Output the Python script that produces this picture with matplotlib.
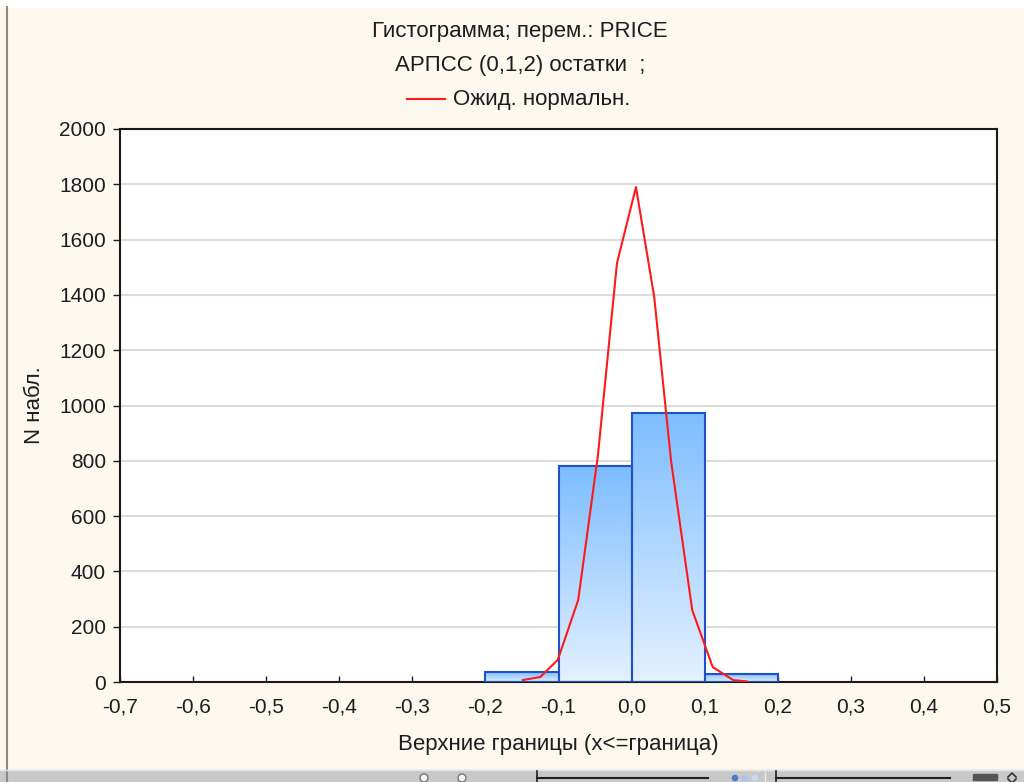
import numpy as np
import matplotlib.pyplot as plt
from matplotlib.patches import Rectangle, Circle
from matplotlib.colors import LinearSegmentedColormap
from matplotlib.ticker import FuncFormatter

plt.rcParams['font.family'] = ['Liberation Sans', 'DejaVu Sans']

# histogram of ARIMA residuals
bin_left = [-0.2, -0.1, 0.0, 0.1]
bin_width = 0.1
counts = [36, 781, 973, 29]

# expected normal curve, as plotted
curve_x = [-0.149, -0.125, -0.101, -0.073, -0.046, -0.020, 0.006,
           0.031, 0.054, 0.083, 0.111, 0.139, 0.158]
curve_y = [7, 18, 80, 297, 821, 1515, 1790, 1392, 800, 260, 54, 7, 2]

xticks = np.round(np.arange(-0.7, 0.51, 0.1), 1)
yticks = np.arange(0, 2001, 200)

txt = '#1c1c24'
fs_tick = 15
fs_text = 16
W, H = 1024, 782
fig = plt.figure(figsize=(W / 100, H / 100), dpi=100, facecolor='#fdf8ee')

# window chrome: white strip on top, left border, status bar at the bottom
bg = fig.add_axes([0, 0, 1, 1], zorder=-5)
bg.set_xlim(0, W)
bg.set_ylim(H, 0)
bg.axis('off')
bg.add_patch(Rectangle((0, 0), W, 7, color='white'))
bg.plot([7, 7], [7, H], color='#8a8a8a', lw=1.5)
bg.add_patch(Rectangle((0, 770), W, 12, color='#c8c8c8'))
bg.plot([0, W], [770, 770], color='#e6e6e6', lw=1)
grad = np.linspace(0, 1, 30).reshape(1, -1)
bg.imshow(grad, cmap='Blues_r', extent=(487, 516, 782, 771), aspect='auto', vmin=-0.3, vmax=1.2)
for a, b in [(537, 708), (776, 950)]:
    bg.plot([a, b], [778, 778], color='#202020', lw=1.5)
    bg.plot([a, a], [771, 782], color='#202020', lw=1.2)
bg.scatter([735, 745, 755], [778, 778, 778], s=14, color=['#4a7ccc', '#a8c4ec', '#c9d9f2'])
bg.plot([765, 765], [771, 782], color='#e8e8e8', lw=1)
bg.add_patch(Rectangle((973, 774), 24, 6, color='#555555'))
bg.plot([1008, 1012, 1016], [777, 773, 777], color='#333333', lw=1.2)
bg.plot([1008, 1012, 1016], [779, 783, 779], color='#333333', lw=1.2)
for cx in (424, 462):
    bg.add_patch(Circle((cx, 778), 4, facecolor='#f4f4f4', edgecolor='#777777', lw=1))

ax = fig.add_axes([120 / W, 1 - 682 / H, 877 / W, 553 / H])
ax.set_facecolor('white')

# bars with vertical gradient fill
gfill = np.linspace(0, 1, 256).reshape(-1, 1)
cmap = LinearSegmentedColormap.from_list('bar', ['#e4f1ff', '#7dbdff'])
for x0, c in zip(bin_left, counts):
    ax.imshow(gfill, cmap=cmap, origin='lower', aspect='auto',
              extent=(x0, x0 + bin_width, 0, c), zorder=2)
    ax.add_patch(Rectangle((x0, 0), bin_width, c, fill=False,
                           edgecolor='#1f52c9', lw=1.5, zorder=3))
ax.set_xlim(-0.7, 0.5)
ax.set_ylim(0, 2000)

ax.plot(curve_x, curve_y, color='#ff1a1a', lw=1.5, zorder=4)

ax.set_yticks(yticks)
ax.set_xticks(xticks)
ax.yaxis.grid(True, color='#dcdcdc', lw=1.5, zorder=1)
ax.set_axisbelow(True)
ax.xaxis.set_major_formatter(FuncFormatter(lambda v, p: f'{v:.1f}'.replace('.', ',').replace('-0,0', '0,0')))
ax.tick_params(axis='y', direction='out', length=5, width=1, pad=5, labelsize=fs_tick, colors=txt)
ax.tick_params(axis='x', direction='in', length=4, width=1, pad=11, labelsize=fs_tick, colors=txt)
for s in ax.spines.values():
    s.set_linewidth(1.5)
    s.set_color('#1a1a1a')

ax.set_ylabel('N набл.', fontsize=fs_text, color=txt, labelpad=10)
ax.set_xlabel('Верхние границы (x<=граница)', fontsize=fs_text, color=txt, labelpad=13)

# title block with legend line
fig.text(520 / W, 1 - 32 / H, 'Гистограмма; перем.: PRICE', ha='center', va='center', fontsize=fs_text, color=txt)
fig.text(520 / W, 1 - 65 / H, 'АРПСС (0,1,2) остатки  ;', ha='center', va='center', fontsize=fs_text, color=txt)
fig.add_artist(plt.Line2D([407 / W, 445 / W], [1 - 99 / H, 1 - 99 / H], color='#ff1a1a', lw=1.5))
fig.text(453 / W, 1 - 99 / H, 'Ожид. нормальн.', ha='left', va='center', fontsize=fs_text, color=txt)

fig.savefig('out.png', dpi=100, facecolor=fig.get_facecolor())
